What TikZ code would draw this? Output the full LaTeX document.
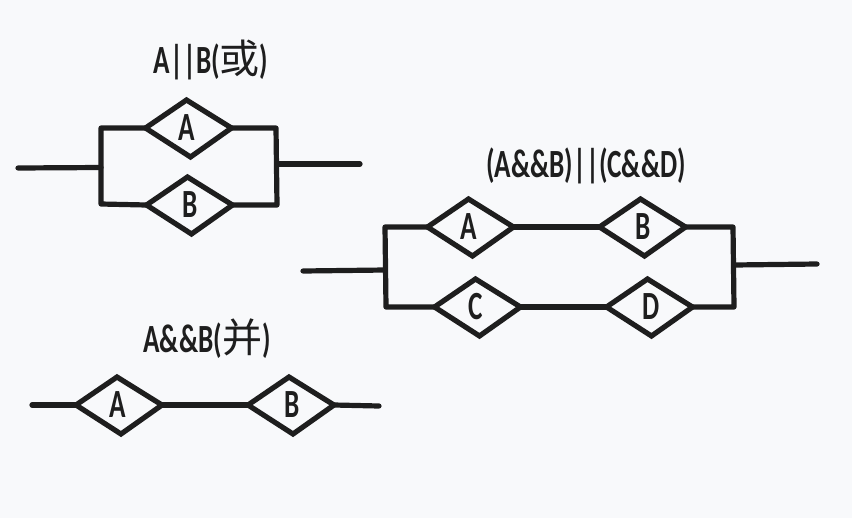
\documentclass[tikz,border=0pt]{standalone}
\usepackage{fontspec}
\setmainfont{Carlito}[FakeStretch=0.68]
\newfontfamily\cjk{Noto Sans CJK SC}
\definecolor{ink}{HTML}{1E1E1E}
\definecolor{paper}{HTML}{F8F9FB}
\tikzset{
  wire/.style={draw=ink,line width=3.9pt,line cap=round,line join=round},
  gate/.style={draw=ink,line width=3.9pt,line join=miter,miter limit=4},
  gatelabel/.style={text=ink,font=\fontsize{30}{30}\selectfont\bfseries,inner sep=0pt},
  heading/.style={text=ink,font=\fontsize{30}{30}\selectfont\bfseries,inner sep=0pt},
}
% A slightly hand-drawn diamond: corners are named name-l, name-t, name-r, name-b.
% The optional argument nudges the letter sideways from the diamond's centre.
\newcommand{\gatebox}[5][-2]{%
  \coordinate (#2-l) at (#3-43,#4);
  \coordinate (#2-t) at (#3-2,#4-28);
  \coordinate (#2-r) at (#3+43,#4);
  \coordinate (#2-b) at (#3+2,#4+29);
  \draw[gate] (#2-l) -- (#2-t) -- (#2-r) -- (#2-b) -- cycle;
  \node[gatelabel] (#2) at (#3+#1,#4) {#5};
}
\newcommand{\hanzi}[1]{{\cjk\mdseries\fontsize{30}{30}\selectfont #1}}
\begin{document}
\begin{tikzpicture}[x=0.75pt,y=-0.75pt]
\fill[paper] (0,0) rectangle (852,518);
\useasboundingbox (0,0) rectangle (852,518);

% Parallel pair
\node[heading] (titleOr) at (211,60) {A||B(\hanzi{或})};
\gatebox{orA}{188.5}{128}{A}
\gatebox[1]{orB}{189.5}{205}{B}
\coordinate (orTL) at (101,128);
\coordinate (orBL) at (101,204);
\coordinate (orTR) at (276,128);
\coordinate (orBR) at (277,205);
\coordinate (orIn) at (18,168);
\coordinate (orJoinL) at (101,167.5);
\coordinate (orOut) at (360,164);
\coordinate (orJoinR) at (277,164);
\draw[wire] (orA-l) -- (orTL) -- (orBL) -- (orB-l);
\draw[wire] (orA-r) -- (orTR) -- (orBR) -- (orB-r);
\draw[wire] (orIn) -- (orJoinL);
\draw[wire] (orJoinR) -- (orOut);

% Series pair
\node[heading] (titleAnd) at (207,339) {A\&\&B(\hanzi{并})};
\gatebox[-1.5]{andA}{119}{405}{A}
\gatebox[1.5]{andB}{291}{405}{B}
\coordinate (andIn) at (32,405);
\coordinate (andOut) at (379,406);
\draw[wire] (andIn) -- (andA-l);
\draw[wire] (andA-r) -- (andB-l);
\draw[wire] (andB-r) -- (andOut);

% Two series pairs in parallel
\node[heading] (titleMix) at (586,166) {(A\&\&B)||(C\&\&D)};
\gatebox{mixA}{470.5}{227}{A}
\gatebox[1]{mixB}{642.5}{227}{B}
\gatebox{mixC}{477.5}{307}{C}
\gatebox[2]{mixD}{649.5}{307}{D}
\coordinate (mixTL) at (385,227);
\coordinate (mixBL) at (386,307);
\coordinate (mixTR) at (733,227);
\coordinate (mixBR) at (734,307);
\coordinate (mixIn) at (303,271);
\coordinate (mixJoinL) at (385,270);
\coordinate (mixOut) at (817,264);
\coordinate (mixJoinR) at (734,265);
\draw[wire] (mixA-l) -- (mixTL) -- (mixBL) -- (mixC-l);
\draw[wire] (mixB-r) -- (mixTR) -- (mixBR) -- (mixD-r);
\draw[wire] (mixA-r) -- (mixB-l);
\draw[wire] (mixC-r) -- (mixD-l);
\draw[wire] (mixIn) -- (mixJoinL);
\draw[wire] (mixJoinR) -- (mixOut);
\end{tikzpicture}
\end{document}
